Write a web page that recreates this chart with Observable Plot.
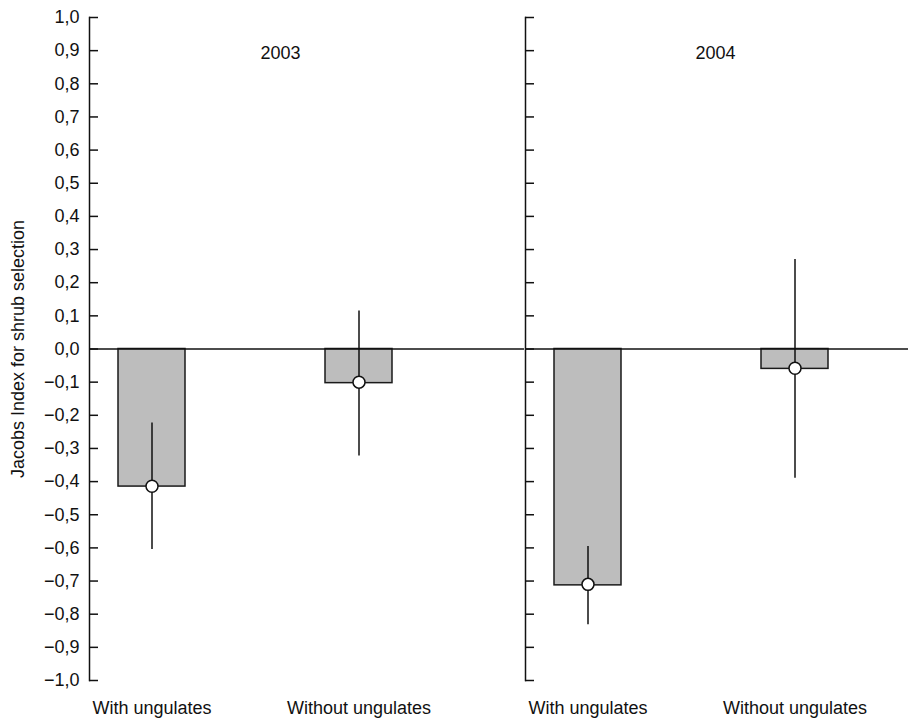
<!DOCTYPE html>
<html><head><meta charset="utf-8">
<script src="https://cdn.jsdelivr.net/npm/d3@7"></script>
<script src="https://cdn.jsdelivr.net/npm/@observablehq/plot@0.6"></script>
<style>
body{margin:0;background:#fff;overflow:hidden}
#chart{display:flex;width:908px;height:718px}
#chart svg{flex:none}
</style></head><body><div id="chart"></div>
<script>
const years = ["2003", "2004"];
const treatments = ["With ungulates", "Without ungulates"];
// bar heights per year (order: With, Without)
const bars2003 = [-0.415, -0.103];
const bars2004 = [-0.713, -0.060];
// point (mean) values
const means2003 = [-0.414, -0.100];
const means2004 = [-0.710, -0.058];
// error bar ends
const low2003 = [-0.605, -0.323];
const high2003 = [-0.223, 0.115];
const low2004 = [-0.832, -0.390];
const high2004 = [-0.596, 0.270];
const yTicks = [-1.0, -0.9, -0.8, -0.7, -0.6, -0.5, -0.4, -0.3, -0.2, -0.1, 0.0,
                0.1, 0.2, 0.3, 0.4, 0.5, 0.6, 0.7, 0.8, 0.9, 1.0];
const yLabel = "Jacobs Index for shrub selection";

const series = {
  "2003": {bars: bars2003, means: means2003, low: low2003, high: high2003},
  "2004": {bars: bars2004, means: means2004, low: low2004, high: high2004}
};

function rows(year) {
  const s = series[year];
  return treatments.map((t, i) => ({year, treatment: t, bar: s.bars[i], mean: s.means[i], lo: s.low[i], hi: s.high[i]}));
}

const fmt = v => {
  const r = Math.round(v * 10) / 10;
  return (r < 0 ? "\u2212" : "") + Math.abs(r).toFixed(1).replace(".", ",");
};

function panel(year, {width, marginLeft, insetRight, labels}) {
  const data = rows(year);
  return Plot.plot({
    width,
    height: 718,
    marginLeft,
    marginRight: 0,
    marginTop: 17,
    marginBottom: 38,
    style: {fontFamily: "'Liberation Sans', Arial, sans-serif", fontSize: "18px", color: "#111", background: "#fff"},
    x: {type: "band", domain: treatments, paddingInner: 0.675, paddingOuter: 0, insetLeft: 29, insetRight, label: null},
    y: {domain: [-1, 1], label: null},
    marks: [
      Plot.barY(data, {x: "treatment", y1: 0, y2: "bar", fill: "#bdbdbd", stroke: "#1a1a1a", strokeWidth: 1.5}),
      Plot.ruleY([0], {stroke: "#111", strokeWidth: 1.3}),
      Plot.ruleX(data, {x: "treatment", y1: "lo", y2: "hi", stroke: "#111", strokeWidth: 1.5}),
      Plot.dot(data, {x: "treatment", y: "mean", r: 6, fill: "white", stroke: "#111", strokeWidth: 1.5}),
      Plot.text([year], {frameAnchor: "top-left", dx: labels ? 191 : 190, dy: 36, text: d => d, textAnchor: "middle", lineAnchor: "middle", fill: "#111"}),
      Plot.axisX({tickSize: 0, tickPadding: 21, label: null, fill: "#111"}),
      Plot.frame({anchor: "left", stroke: "#111", strokeWidth: 1.5}),
      labels
        ? Plot.axisY({ticks: yTicks, tickFormat: fmt, tickSize: -9, tickPadding: 19, strokeWidth: 1.5,
                      label: yLabel, labelAnchor: "center", labelOffset: 78, labelArrow: "none", fill: "#111", stroke: "#111"})
        : Plot.axisY({ticks: yTicks, tickFormat: () => "", tickSize: -9, tickPadding: 19, strokeWidth: 1.5,
                      label: null, stroke: "#111"})
    ]
  });
}

const chart = document.getElementById("chart");
chart.append(panel(years[0], {width: 524, marginLeft: 89, insetRight: 131.7, labels: true}));
chart.append(panel(years[1], {width: 384, marginLeft: 1, insetRight: 79.7, labels: false}));
</script></body></html>
